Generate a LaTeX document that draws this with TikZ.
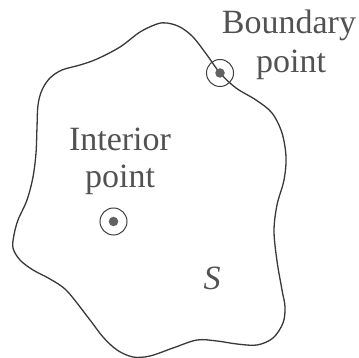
\documentclass[tikz,border=0pt]{standalone}
\usepackage{fontspec}
\setmainfont{Liberation Serif}
\begin{document}
\begin{tikzpicture}[x=1pt,y=-1pt,
  blob/.style={draw=black!78, line width=1.3pt},
  ring/.style={draw=black!75, line width=1pt},
  dotmark/.style={fill=black!62},
  lbl/.style={text=black!68, font=\fontsize{34}{38}\selectfont, inner sep=0pt, anchor=base}]
\useasboundingbox (0,0) rectangle (359,358);
\draw[blob] plot[smooth cycle, tension=0.55] coordinates {
 (167,23) (180,27) (193,37) (207,55) (220,73) (236,88) (256,100) (272,113)
 (282,133) (286,157) (284,180) (277,205) (274,231) (277,261) (282,290)
 (285,307) (283,323) (273,338) (257,345) (237,344) (217,341) (197,340)
 (173,348) (150,356) (133,357) (117,350) (103,337) (90,320) (67,291)
 (50,279) (33,270) (20,260) (13,248) (14,235) (18,220) (27,200) (33,177)
 (36,153) (37,127) (38,105) (42,90) (50,78) (62,70) (80,65) (97,59)
 (120,47) (140,32) (157,24)};
\coordinate (bp) at (220,73);
\coordinate (ip) at (113.5,221.5);
\node[ring, circle, minimum size=27pt, inner sep=0pt] (bring) at (bp) {};
\node[dotmark, circle, minimum size=9.5pt, inner sep=0pt] (bdot) at (bp) {};
\node[ring, circle, minimum size=27pt, inner sep=0pt] (iring) at (ip) {};
\node[dotmark, circle, minimum size=9.5pt, inner sep=0pt] (idot) at (ip) {};
\node[lbl] (b1) at (289,34) {Boundary};
\node[lbl] (b2) at (291,73) {point};
\node[lbl] (i1) at (120,151) {Interior};
\node[lbl] (i2) at (120,188) {point};
\node[lbl] (s) at (212,290) {\itshape S};
\end{tikzpicture}
\end{document}
